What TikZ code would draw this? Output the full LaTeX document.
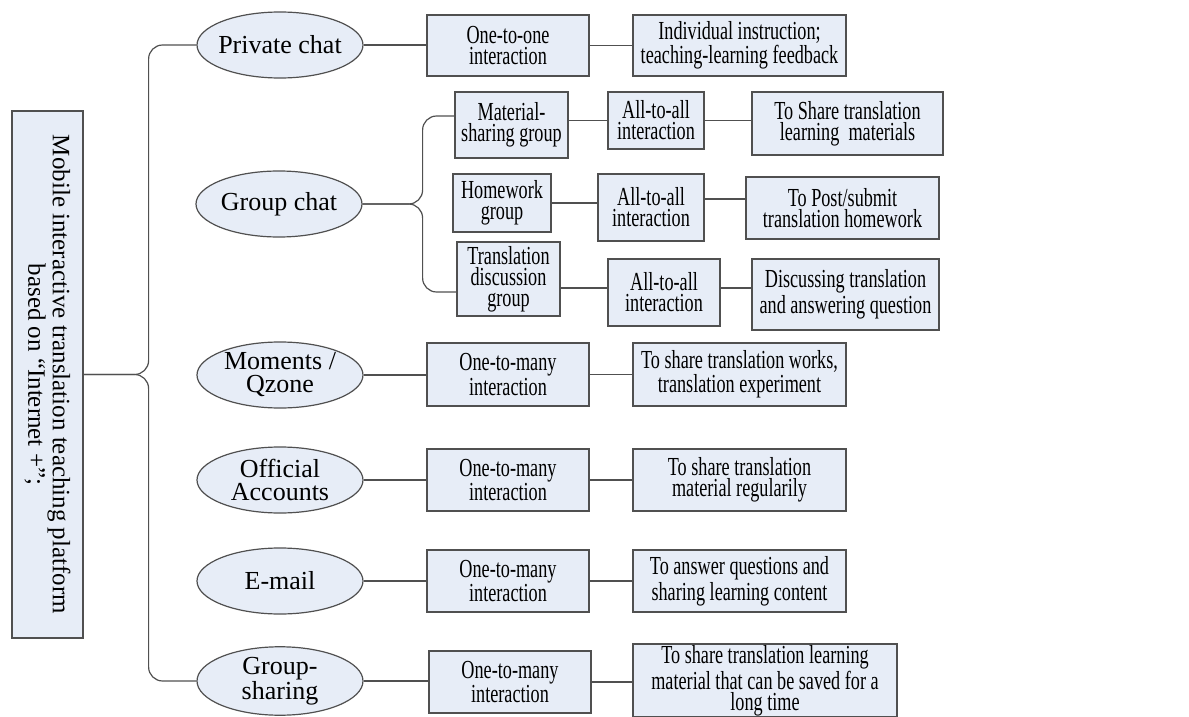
\documentclass[tikz,border=0pt]{standalone}
\usepackage{fontspec}
\setmainfont{Liberation Serif}
\newfontfamily\narrowserif[FakeStretch=0.7]{Liberation Serif}
\usepackage[svgnames]{xcolor}
\usepackage{tikz}
\usetikzlibrary{shapes.geometric}

\definecolor{BoxFill}{HTML}{E7EDF7}
\definecolor{EdgeGray}{HTML}{505050}

\begin{document}
\begin{tikzpicture}[x=0.5pt, y=-0.5pt]
        \tikzset{
            platform/.style={draw=EdgeGray, fill=BoxFill, line width=0.6pt, inner sep=0pt, align=center, font=\fontsize{12.5}{10.5}\selectfont},
            channel/.style={ellipse, draw=EdgeGray, fill=BoxFill, line width=0.6pt, inner ysep=0pt, inner xsep=-4pt, minimum width=83pt, minimum height=33pt, align=center, font=\fontsize{13}{11.5}\selectfont},
            itembox/.style={draw=EdgeGray, fill=BoxFill, line width=0.6pt, inner sep=0pt, align=center, font=\narrowserif\fontsize{13}{10.5}\selectfont},
            link/.style={draw=EdgeGray, line width=0.6pt},
            bracelink/.style={link, rounded corners=7pt}
        }
        \newcommand{\ItemBox}[6]{% name, x, y, width, height, text
            \node[itembox, minimum width=#4*0.5pt, minimum height=#5*0.5pt] (#1) at (#2,#3) {#6};
        }

        \useasboundingbox (0,0) rectangle (1189,717);

        \node[platform, rotate=-90, minimum width=263.5pt, minimum height=35.5pt] (main) at (47.5,374.5)
            {Mobile interactive translation teaching platform\\based on “Internet +”;};

        \node[channel] (priv) at (280,45) {Private chat};
        \node[channel] (gchat) at (279,204) {Group chat};
        \node[channel] (moments) at (280,375) {Moments /\\Qzone};
        \node[channel] (official) at (280,480) {Official\\Accounts};
        \node[channel] (email) at (280,581) {E-mail};
        \node[channel] (gshare) at (280,681) {Group-\\sharing};

        \ItemBox{privint}{508}{45.5}{162}{61}{One-to-one\\interaction}
        \ItemBox{privuse}{739.5}{45.5}{213}{61}{Individual instruction;\\teaching-learning feedback}

        \ItemBox{matgrp}{511.5}{125}{113}{66}{Material-\\sharing group}
        \ItemBox{matint}{656}{120.5}{96}{57}{All-to-all\\interaction}
        \ItemBox{matuse}{847.5}{123.5}{191}{63}{To Share translation\\learning\ \ materials}
        \ItemBox{hwgrp}{502}{203}{98}{58}{Homework\\group}
        \ItemBox{hwint}{651}{207.5}{106}{67}{All-to-all\\interaction}
        \ItemBox{hwuse}{842.5}{208}{193}{62}{To Post/submit\\translation homework}
        \ItemBox{discgrp}{508.5}{279}{103}{74}{Translation\\discussion\\group}
        \ItemBox{discint}{664}{292.5}{112}{67}{All-to-all\\interaction}
        \ItemBox{discuse}{845.5}{294.5}{187}{71}{Discussing translation\\and answering question}

        \ItemBox{momint}{508}{374.5}{162}{63}{One-to-many\\interaction}
        \ItemBox{momuse}{739.5}{374.5}{213}{63}{To share translation works,\\translation experiment}
        \ItemBox{offint}{508}{480}{162}{62}{One-to-many\\interaction}
        \ItemBox{offuse}{739.5}{480}{213}{62}{To share translation\\material regularily}
        \ItemBox{mailint}{508}{581}{162}{62}{One-to-many\\interaction}
        \ItemBox{mailuse}{739.5}{581}{213}{62}{To answer questions and\\sharing learning content}
        \ItemBox{shareint}{510}{682}{162}{62}{One-to-many\\interaction}
        \ItemBox{shareuse}{765}{680.5}{264}{73}{To share translation learning\\material that can be saved for a\\long time}

        % braces
        \draw[bracelink] (main.north) -- ++(65,0) |- (priv.west);
        \draw[bracelink] (main.north) -- ++(65,0) |- (gshare.west);
        \draw[bracelink] (gchat.east) -- ++(60,0) |- (matgrp.west |- 0,116);
        \draw[bracelink] (gchat.east) -- ++(60,0) |- (discgrp.west |- 0,292);

        % rows
        \draw[link] (priv.east) -- (privint.west |- priv.east);
        \draw[link] (privint.east) -- (privuse.west);
        \draw[link] (matgrp.east |- matint.west) -- (matint.west);
        \draw[link] (matint.east) -- (matuse.west |- matint.east);
        \draw[link] (hwgrp.east) -- (hwint.west |- hwgrp.east);
        \draw[link] (hwint.east |- 0,199) -- (hwuse.west |- 0,199);
        \draw[link] (discgrp.east |- 0,288) -- (discint.west |- 0,288);
        \draw[link] (discint.east |- 0,288) -- (discuse.west |- 0,288);
        \draw[link] (moments.east) -- (momint.west |- moments.east);
        \draw[link] (momint.east) -- (momuse.west);
        \draw[link] (official.east) -- (offint.west |- official.east);
        \draw[link] (offint.east) -- (offuse.west);
        \draw[link] (email.east) -- (mailint.west |- email.east);
        \draw[link] (mailint.east) -- (mailuse.west);
        \draw[link] (gshare.east) -- (shareint.west |- gshare.east);
        \draw[link] (shareint.east) -- (shareuse.west |- shareint.east);
    \end{tikzpicture}
\end{document}
